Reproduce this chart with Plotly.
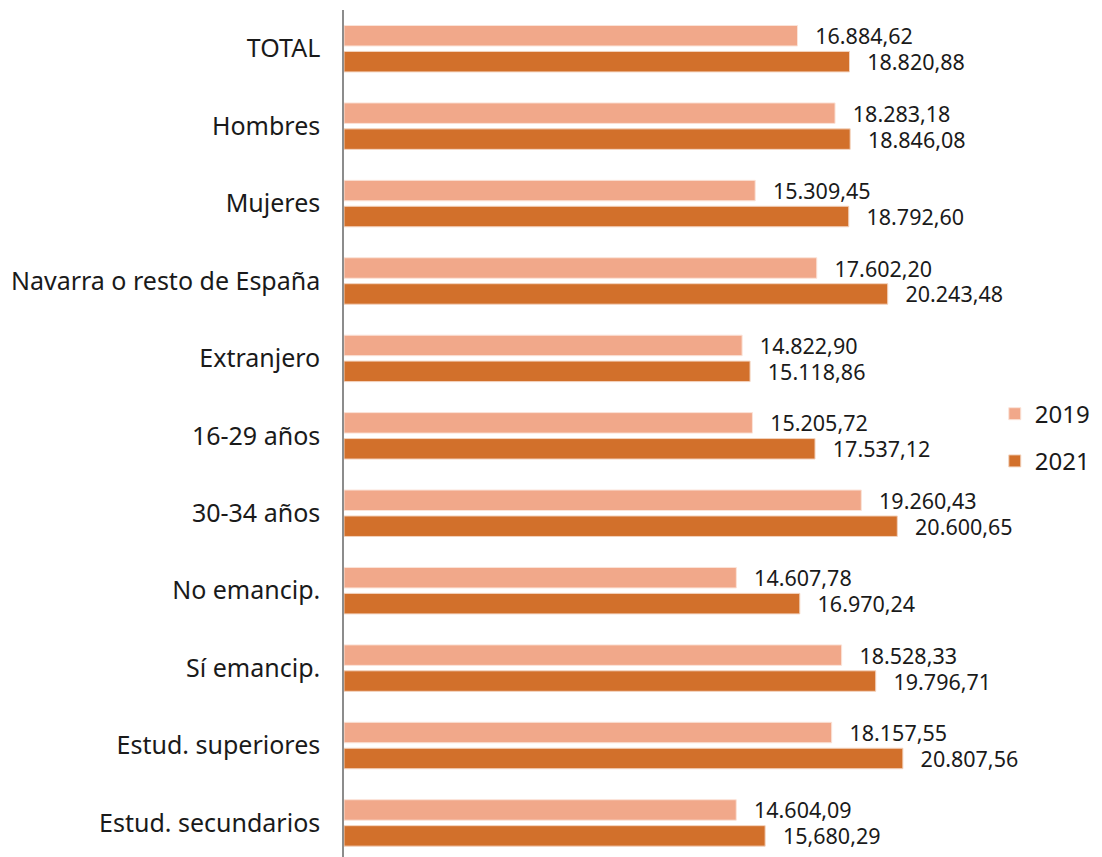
import plotly.graph_objects as go

categories = [
    "TOTAL", "Hombres", "Mujeres", "Navarra o resto de España", "Extranjero",
    "16-29 años", "30-34 años", "No emancip.", "Sí emancip.",
    "Estud. superiores", "Estud. secundarios",
]
values_2019 = [16884.62, 18283.18, 15309.45, 17602.20, 14822.90, 15205.72,
               19260.43, 14607.78, 18528.33, 18157.55, 14604.09]
values_2021 = [18820.88, 18846.08, 18792.60, 20243.48, 15118.86, 17537.12,
               20600.65, 16970.24, 19796.71, 20807.56, 15680.29]
labels_2019 = ["16.884,62", "18.283,18", "15.309,45", "17.602,20", "14.822,90",
               "15.205,72", "19.260,43", "14.607,78", "18.528,33", "18.157,55",
               "14.604,09"]
labels_2021 = ["18.820,88", "18.846,08", "18.792,60", "20.243,48", "15.118,86",
               "17.537,12", "20.600,65", "16.970,24", "19.796,71", "20.807,56",
               "15,680,29"]

FONT = "Noto Sans"
PAD = "\u00a0\u00a0\u202f"

fig = go.Figure()
fig.add_trace(go.Bar(
    y=categories, x=values_2019, name="2019", orientation="h",
    marker=dict(color="#F1A88A", line=dict(color="#FBE3D8", width=1)),
    text=[PAD + t for t in labels_2019], textposition="outside",
    textfont=dict(size=21.5, color="#1a1a1a", family=FONT),
    cliponaxis=False, legendgroup="a",
))
fig.add_trace(go.Bar(
    y=categories, x=values_2021, name="2021", orientation="h",
    marker=dict(color="#D2702B", line=dict(color="#F3D3BE", width=1)),
    text=[PAD + t for t in labels_2021], textposition="outside",
    textfont=dict(size=21.5, color="#1a1a1a", family=FONT),
    cliponaxis=False, legendgroup="b",
))

# the page body adds an 8px margin, so the figure is a bit smaller than the window
fig.update_layout(
    width=1094, height=849,
    margin=dict(l=336, r=102, t=2, b=0),
    paper_bgcolor="white", plot_bgcolor="white",
    barmode="group", bargap=0.33, bargroupgap=0.21,
    font=dict(family=FONT, size=24, color="#1a1a1a"),
    legend=dict(
        xref="container", yref="container",
        x=0.902, y=0.494, xanchor="left", yanchor="middle",
        font=dict(size=24, family=FONT, color="#1a1a1a"),
        traceorder="grouped", tracegroupgap=13, itemwidth=30,
    ),
    showlegend=True,
)
fig.update_traces(constraintext="none")
# legend pushes the right margin a little; range chosen so the bar scale matches
fig.update_xaxes(range=[0, 24230], visible=False, showgrid=False, zeroline=False)
fig.update_yaxes(
    autorange=False, range=[10.44, -0.5],
    showline=True, linecolor="#8c8c8c", linewidth=1.5,
    showgrid=False, ticks="", ticklabelstandoff=17,
    tickfont=dict(size=25, family=FONT, color="#1a1a1a"),
)

fig.write_html("out.html")
